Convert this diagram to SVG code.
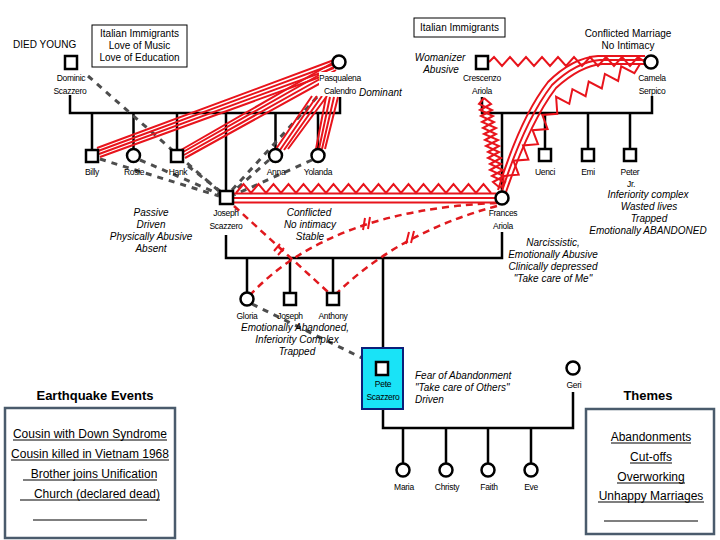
<svg xmlns="http://www.w3.org/2000/svg" width="720" height="540" viewBox="0 0 720 540">
<style>
.m{stroke:#000;stroke-width:2.5;fill:#fff}
.fl{stroke:#000;stroke-width:2.5;fill:none}
.t{font-family:"Liberation Sans",Arial,sans-serif;fill:#000}
.lbl{font-size:8.5px;text-anchor:middle;letter-spacing:-0.3px}
.it{font-size:10px;font-style:italic;text-anchor:middle}
.nt{font-size:10px;text-anchor:middle}
.ev{font-size:12px;text-anchor:middle}
.hd{font-size:13px;font-weight:bold;text-anchor:middle}
.st{text-anchor:start}
.red{stroke:#e8141c;stroke-width:2;fill:none}
.rd{stroke:#e0191e;stroke-width:2.5;stroke-dasharray:7 5;fill:none}
.gd{stroke:#4d4d4d;stroke-width:3;stroke-dasharray:6 6;fill:none}
.ul{stroke:#000;stroke-width:1.2}
.box{fill:#fff;stroke:#4a5b6c;stroke-width:2.5}
</style>
<rect width="720" height="540" fill="#fff"/>

<g id="connectors">
  <!-- family lines -->
  <path class="fl" d="M70 95 V113 H340 V97"/>
  <path class="fl" d="M92 113 V150 M133.5 113 V149 M177 113 V150 M226 113 V190 M275.5 113 V149 M318 113 V149"/>
  <path class="fl" d="M482 97 V113 H652 V96"/>
  <path class="fl" d="M502 113 V191 M545 113 V148 M588 113 V148 M630 113 V148"/>
  <path class="fl" d="M226 235 V258 H502 V232"/>
  <path class="fl" d="M247 258 V292 M290 258 V293 M333 258 V293 M383 258 V348"/>
  <path class="fl" d="M383 409 V428 H573 V392"/>
  <path class="fl" d="M403 428 V463 M446 428 V463 M488 428 V463 M531 428 V463"/>

  <!-- grey dashed -->
  <path class="gd" d="M88 76 L220 192"/>
  <path class="gd" d="M100 159 L219 196"/>
  <path class="gd" d="M140 160 L219 194"/>
  <path class="gd" d="M188 166 L220 191"/>
  <path class="gd" d="M232 190 L318 96"/>
  <path class="gd" d="M269 160 L233 192"/>
  <path class="gd" d="M312 160 L234 195"/>
  <path class="gd" d="M252 304 L362 358"/>

  <!-- Pasqualena fused bundles -->
  <path class="red" d="M334 60 L97 148 M334 64 L98 151 M334 68 L99 154 M334 72 L100 157"/>
  <path class="red" d="M334 62 L181 150 M335 66 L183 152 M336 70 L184 155 M337 74 L185 158"/>
  <path class="red" d="M312 96 L276 149 M317 96 L280 150 M322 96 L284 150 M327 96 L288 149"/>
  <path class="red" d="M326 97 L316 149 M330 97 L319 149 M334 97 L322 149 M338 97 L325 149"/>

  <!-- Crescenzo - Camela conflict -->
  <polyline class="red" points="489,62 494,57 502,66 510,57 518,66 526,57 534,66 542,57 550,66 558,57 566,66 574,57 582,66 590,57 598,66 606,57 614,66 622,57 630,66 638,57 645,62"/>
  <!-- Camela - Frances fused -->
  <path class="red" d="M645 56 L598 56 Q572 58 548 82 Q520 118 498 190"/>
  <path class="red" d="M645 60 L600 60 Q576 62 552 85 Q525 120 502 191"/>
  <path class="red" d="M645 64 L602 64 Q580 66 556 88 Q530 122 506 192"/>
  <!-- Camela - Frances conflict -->
  <polyline class="red" points="640,64 634.4,73.2 621.2,66.3 618.1,80.9 604.9,73.9 601.8,88.5 588.7,81.5 585.6,96.2 572.4,89.2 569.3,103.8 556.1,96.8 557.3,113.8 542.3,114.9 547.6,129 532.6,130.2 538,144.2 523,145.4 528.4,159.5 513.4,160.7 518.7,174.7 503.7,175.9 503,188"/>
  <!-- Crescenzo - Frances conflict -->
  <polyline class="red" points="484,98 479,104 492,110 481,116 494,122 483,128 496,134 485,140 499,146 488,152 501,158 490,164 503,170 492,176 505,182 500,188"/>
  <polyline class="red" points="484,98 491,104 480,110 493,116 482,122 496,128 484,134 498,140 486,146 499,152 488,158 501,164 490,170 504,176 493,182 500,188"/>

  <!-- Joseph - Frances marriage -->
  <path class="red" d="M233 193.5 H496 M233 198 H496 M233 202.5 H496"/>
  <polyline class="red" points="236,193 243.5,184 251,193 258.5,184 266,193 273.5,184 281,193 288.5,184 296,193 303.5,184 311,193 318.5,184 326,193 333.5,184 341,193 348.5,184 356,193 363.5,184 371,193 378.5,184 386,193 393.5,184 401,193 408.5,184 416,193 423.5,184 431,193 438.5,184 446,193 453.5,184 461,193 468.5,184 476,193 483.5,184 491,193"/>

  <!-- cut-offs -->
  <path class="rd" d="M234 206 L328 292"/>
  <path class="rd" d="M497 203 Q330 210 250 295"/>
  <path class="rd" d="M497 206 Q400 232 337 293"/>
  <path class="red" d="M274 251 L280 244 M278 255 L284 248"/>
  <path class="red" stroke-width="2.2" d="M363 230 L365 218 M368 229 L370 217"/>
  <path class="red" stroke-width="2.2" d="M406 244 L409 232 M411 243 L414 231"/>
</g>

<g id="box-left-immigrants">
  <rect x="92" y="25" width="95" height="42" fill="#fff" stroke="#000" stroke-width="1"/>
  <text class="t nt" x="139.5" y="37">Italian Immigrants</text>
  <text class="t nt" x="139.5" y="49">Love of Music</text>
  <text class="t nt" x="139.5" y="61">Love of Education</text>
</g>
<g id="box-right-immigrants">
  <rect x="414" y="18" width="91" height="19" fill="#fff" stroke="#000" stroke-width="1"/>
  <text class="t nt" x="459.5" y="31">Italian Immigrants</text>
</g>

<g id="dominic">
  <text class="t" x="13" y="48" font-size="10px">DIED YOUNG</text>
  <rect class="m" x="65" y="56" width="12" height="13"/>
  <text class="t lbl" x="71" y="81">Dominic</text>
  <text class="t lbl" x="70" y="94">Scazzero</text>
</g>
<g id="pasqualena">
  <rect x="319" y="72" width="41" height="24" fill="#fff"/>
  <circle class="m" cx="339" cy="62" r="6.5"/>
  <text class="t lbl" x="340" y="81">Pasqualena</text>
  <text class="t lbl" x="340" y="94">Calendro</text>
  <text class="t it st" x="359" y="96">Dominant</text>
</g>
<g id="billy"><rect class="m" x="86" y="150" width="12" height="12"/><text class="t lbl" x="92" y="175">Billy</text></g>
<g id="rosie"><circle class="m" cx="133.5" cy="155.5" r="6.5"/><text class="t lbl" x="134" y="175">Rosie</text></g>
<g id="hank"><rect class="m" x="171" y="150" width="12" height="12"/><text class="t lbl" x="178" y="175">Hank</text></g>
<g id="anna"><circle class="m" cx="275.5" cy="155.5" r="6.5"/><text class="t lbl" x="276" y="175">Anna</text></g>
<g id="yolanda"><circle class="m" cx="318" cy="155.5" r="6.5"/><text class="t lbl" x="318" y="175">Yolanda</text></g>

<g id="crescenzo">
  <rect class="m" x="476" y="56" width="12" height="13"/>
  <text class="t lbl" x="482" y="81">Crescenzo</text>
  <text class="t lbl" x="482" y="94">Ariola</text>
  <text class="t it" x="440" y="61">Womanizer</text>
  <text class="t it" x="441" y="73">Abusive</text>
</g>
<g id="camela">
  <circle class="m" cx="651" cy="62" r="6.5"/>
  <text class="t lbl" x="652" y="81">Camela</text>
  <text class="t lbl" x="652" y="94">Serpico</text>
  <text class="t nt" x="628" y="37">Conflicted Marriage</text>
  <text class="t nt" x="628" y="49">No Intimacy</text>
</g>
<g id="uenci"><rect class="m" x="539" y="149" width="12" height="12"/><text class="t lbl" x="545" y="175">Uenci</text></g>
<g id="emi"><rect class="m" x="582" y="149" width="12" height="12"/><text class="t lbl" x="588" y="175">Emi</text></g>
<g id="peter">
  <rect class="m" x="624" y="149" width="12" height="12"/>
  <text class="t lbl" x="630" y="175">Peter</text>
  <text class="t lbl" x="631" y="187">Jr.</text>
  <text class="t it" x="648" y="198">Inferiority complex</text>
  <text class="t it" x="649" y="210">Wasted lives</text>
  <text class="t it" x="649" y="222">Trapped</text>
  <text class="t it" x="648" y="234">Emotionally ABANDONED</text>
</g>

<g id="joseph-sr">
  <rect class="m" x="220" y="191" width="13" height="13"/>
  <text class="t lbl" x="226" y="216">Joseph</text>
  <text class="t lbl" x="226" y="229">Scazzero</text>
  <text class="t it" x="151" y="216">Passive</text>
  <text class="t it" x="151" y="228">Driven</text>
  <text class="t it" x="151" y="240">Physically Abusive</text>
  <text class="t it" x="151" y="252">Absent</text>
</g>
<g id="frances">
  <circle class="m" cx="502" cy="198" r="6.5"/>
  <text class="t lbl" x="503" y="216">Frances</text>
  <text class="t lbl" x="503" y="229">Ariola</text>
  <text class="t it" x="553" y="246">Narcissistic,</text>
  <text class="t it" x="553" y="258">Emotionally Abusive</text>
  <text class="t it" x="553" y="270">Clinically depressed</text>
  <text class="t it" x="553" y="282">"Take care of Me"</text>
</g>
<g id="marriage-note">
  <text class="t it" x="309" y="216">Conflicted</text>
  <text class="t it" x="310" y="228">No intimacy</text>
  <text class="t it" x="310" y="240">Stable</text>
</g>

<g id="gloria"><circle class="m" cx="247" cy="299" r="6.5"/><text class="t lbl" x="247" y="319">Gloria</text></g>
<g id="joseph-jr"><rect class="m" x="284" y="293" width="12" height="12"/><text class="t lbl" x="290" y="319">Joseph</text></g>
<g id="anthony"><rect class="m" x="327" y="293" width="12" height="12"/><text class="t lbl" x="333" y="319">Anthony</text></g>
<g id="siblings-note">
  <text class="t it" x="295" y="331">Emotionally Abandoned,</text>
  <text class="t it" x="297" y="343">Inferiority Complex</text>
  <text class="t it" x="297" y="355">Trapped</text>
</g>

<g id="pete">
  <rect x="362" y="348" width="41" height="61" fill="#19e3f7" stroke="#0c1f7a" stroke-width="2"/>
  <rect class="m" x="376" y="362" width="12" height="13"/>
  <text class="t lbl" x="383" y="387">Pete</text>
  <text class="t lbl" x="383" y="400">Scazzero</text>
  <text class="t it st" x="415" y="379">Fear of Abandonment</text>
  <text class="t it st" x="415" y="391">"Take care of Others"</text>
  <text class="t it st" x="415" y="403">Driven</text>
</g>
<g id="geri"><circle class="m" cx="573" cy="368" r="6.5"/><text class="t lbl" x="574" y="388">Geri</text></g>
<g id="maria"><circle class="m" cx="403" cy="470" r="6.5"/><text class="t lbl" x="404" y="490">Maria</text></g>
<g id="christy"><circle class="m" cx="446" cy="470" r="6.5"/><text class="t lbl" x="447" y="490">Christy</text></g>
<g id="faith"><circle class="m" cx="488" cy="470" r="6.5"/><text class="t lbl" x="489" y="490">Faith</text></g>
<g id="eve"><circle class="m" cx="531" cy="470" r="6.5"/><text class="t lbl" x="531" y="490">Eve</text></g>

<g id="earthquake-events">
  <text class="t hd" x="95" y="400">Earthquake Events</text>
  <rect class="box" x="5" y="408" width="170" height="130"/>
  <text class="t ev" x="90" y="438">Cousin with Down Syndrome</text>
  <line class="ul" x1="13" y1="440" x2="167" y2="440"/>
  <text class="t ev" x="90" y="458">Cousin killed in Vietnam 1968</text>
  <line class="ul" x1="11" y1="460" x2="169" y2="460"/>
  <text class="t ev" x="94" y="478">Brother joins Unification</text>
  <line class="ul" x1="23" y1="480" x2="157" y2="480"/>
  <text class="t ev" x="97" y="498">Church (declared dead)</text>
  <line class="ul" x1="20" y1="500" x2="160" y2="500"/>
  <line class="ul" x1="33" y1="520" x2="147" y2="520"/>
</g>

<g id="themes">
  <text class="t hd" x="648" y="400">Themes</text>
  <rect class="box" x="586" y="409" width="128" height="125"/>
  <text class="t ev" x="651" y="441">Abandonments</text>
  <line class="ul" x1="611" y1="443" x2="691" y2="443"/>
  <text class="t ev" x="651" y="461">Cut-offs</text>
  <line class="ul" x1="630" y1="463" x2="672" y2="463"/>
  <text class="t ev" x="651" y="481">Overworking</text>
  <line class="ul" x1="617" y1="483" x2="685" y2="483"/>
  <text class="t ev" x="651" y="500">Unhappy Marriages</text>
  <line class="ul" x1="598" y1="502" x2="704" y2="502"/>
  <line class="ul" x1="604" y1="521" x2="698" y2="521"/>
</g>
</svg>
